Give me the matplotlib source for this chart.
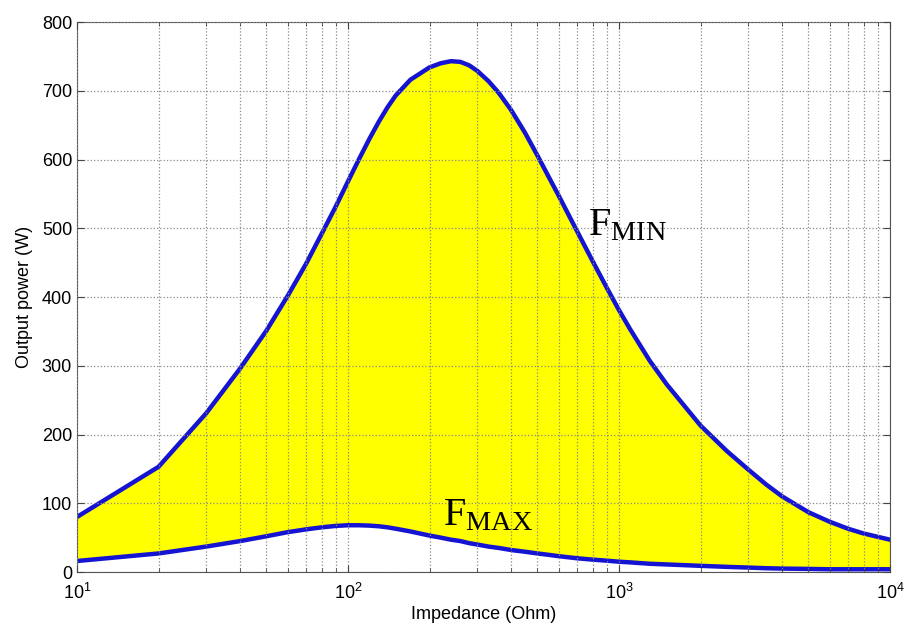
import matplotlib
matplotlib.use("Agg")
import matplotlib.pyplot as plt
import numpy as np

plt.rcParams['font.family'] = ['Liberation Sans', 'DejaVu Sans']
plt.rcParams['mathtext.fontset'] = 'custom'
plt.rcParams['mathtext.rm'] = 'Liberation Serif'

# impedance (Ohm) and output power (W)
impedance = [10, 20, 30, 40, 50, 60, 70, 80, 90, 100, 110, 120, 130, 140, 150,
             170, 200, 220, 240, 260, 280, 300, 330, 360, 400, 450, 500, 550,
             600, 700, 800, 900, 1000, 1100, 1300, 1500, 2000, 2500, 3000,
             3500, 4000, 5000, 6000, 7000, 8000, 10000]
f_min = [80, 153, 231, 296, 351, 402, 448, 492, 531, 568, 601, 630, 655, 676, 693,
         716, 734, 740, 743, 742, 737, 729, 714, 697, 672, 639, 606, 575,
         547, 496, 452, 414, 381, 353, 307, 273, 213, 176, 149,
         127, 110, 87, 73, 63, 56, 47]
f_max = [16, 27, 37, 45, 52, 58, 62, 65, 67, 68, 68, 67.5, 66.5, 65, 63,
         59, 53, 50, 47, 45, 42, 40, 37, 35, 32, 29.5, 27, 25,
         23, 20, 18, 16.5, 15, 14, 12, 11, 9, 7.5, 6.5,
         5.5, 5, 4.5, 4, 4, 4, 4]

x = np.array(impedance)
y1 = np.array(f_min)
y2 = np.array(f_max)

fig = plt.figure(figsize=(9.05, 6.27), dpi=100)
ax = fig.add_axes([0.085, 0.0877, 0.8984, 0.8772])

ax.fill_between(x, y2, y1, color='#ffff00', linewidth=0)
ax.plot(x, y1, color='#1414d2', lw=3.2, solid_joinstyle='round')
ax.plot(x, y2, color='#1414d2', lw=3.2, solid_joinstyle='round')

ax.set_xscale('log')
ax.set_xlim(10, 10000)
ax.set_ylim(0, 800)
ax.set_yticks(np.arange(0, 801, 100))

ax.grid(True, which='major', color='#8a8a8a', linestyle=':', lw=0.9)
ax.grid(True, which='minor', axis='x', color='#8a8a8a', linestyle=':', lw=0.9)
ax.set_axisbelow(False)

ax.tick_params(which='both', direction='in', top=True, right=True,
               labelsize=13, color='#444444')
ax.tick_params(which='major', length=5)
ax.tick_params(which='minor', length=3)
ax.tick_params(axis='x', pad=8)
for s in ax.spines.values():
    s.set_color('#555555')

ax.set_xlabel('Impedance (Ohm)', fontsize=13, labelpad=2)
ax.set_ylabel('Output power (W)', fontsize=13, labelpad=6)

ax.text(769, 490, r'$\mathrm{F_{MIN}}$', fontsize=29, va='baseline', ha='left')
ax.text(224, 68, r'$\mathrm{F_{MAX}}$', fontsize=29, va='baseline', ha='left')

fig.savefig('out.png', dpi=100)
